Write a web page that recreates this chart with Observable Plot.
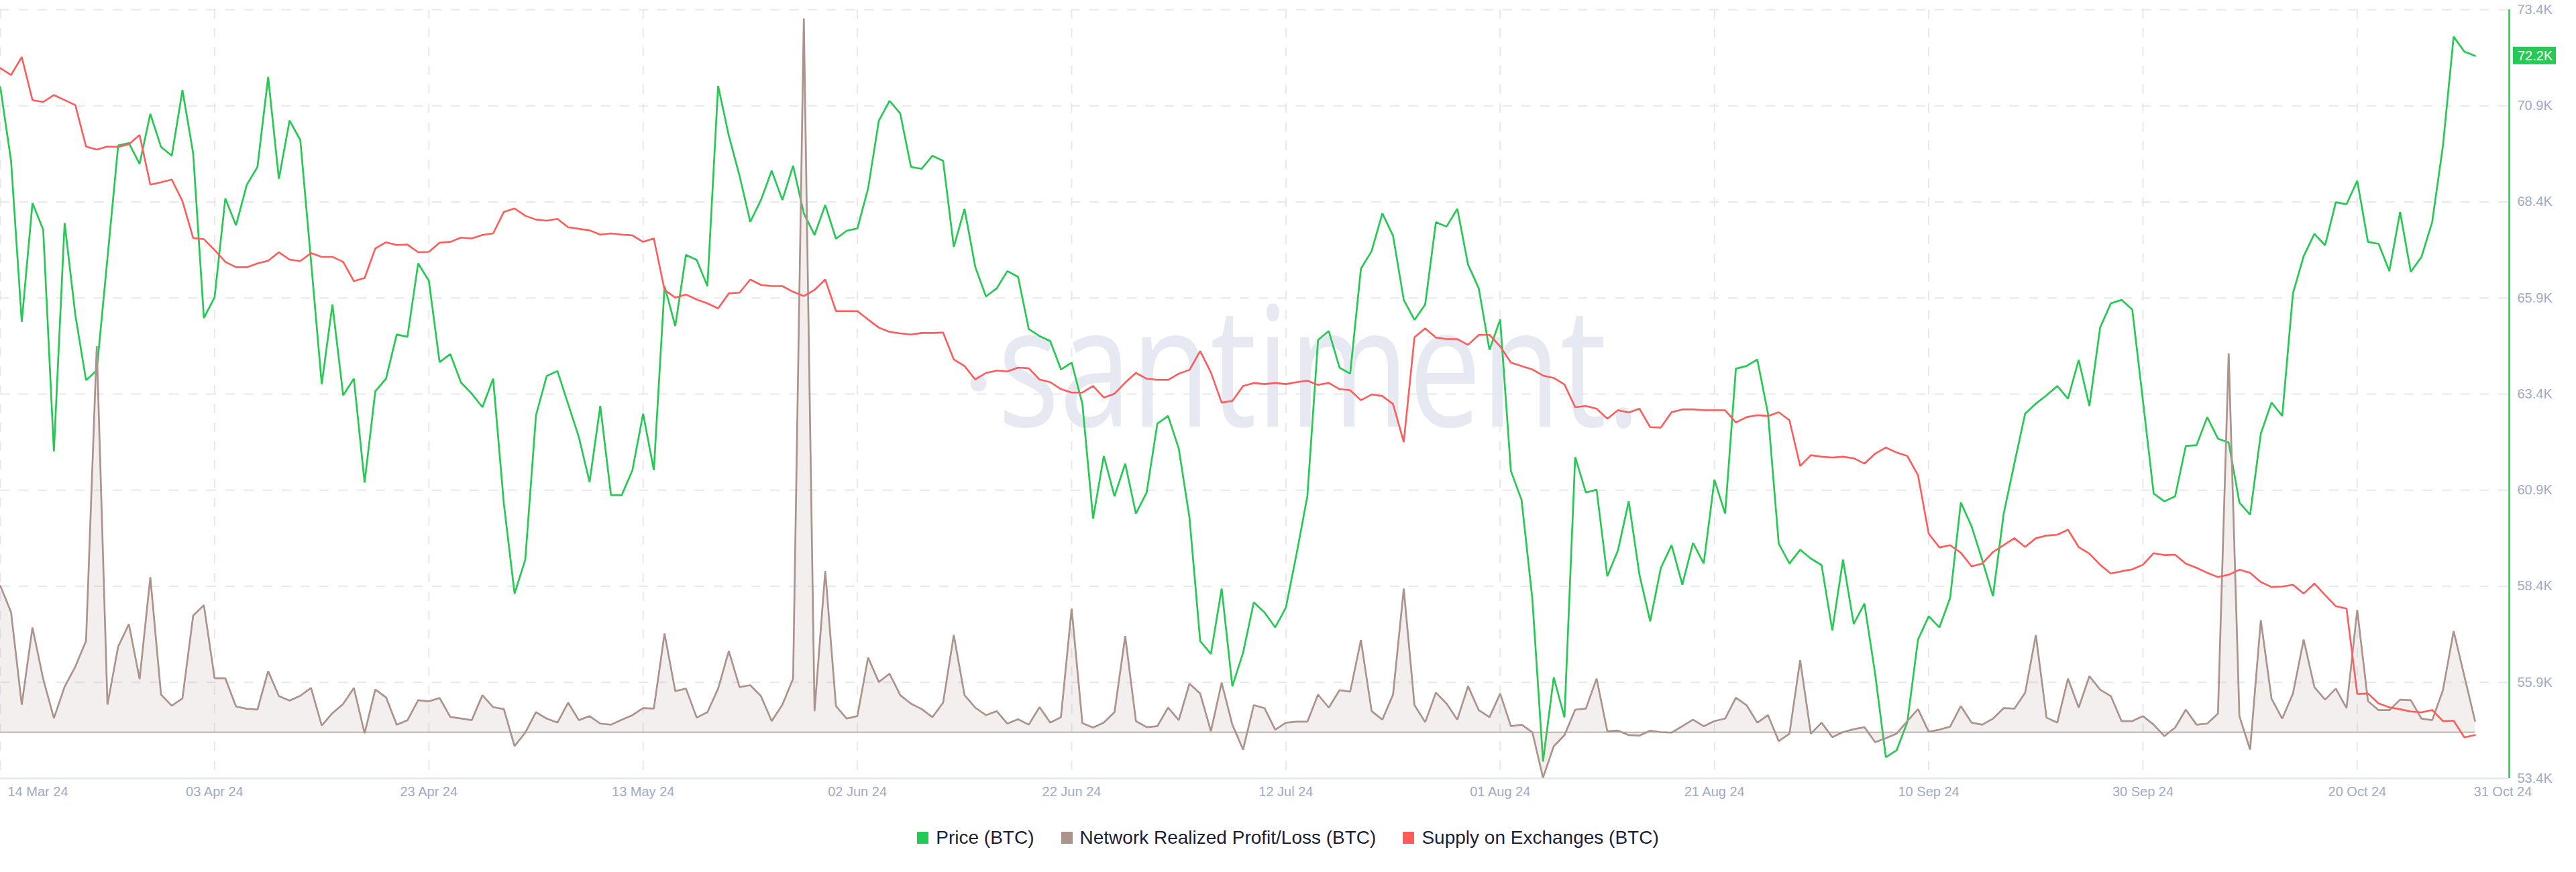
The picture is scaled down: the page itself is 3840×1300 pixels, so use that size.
<!DOCTYPE html>
<html>
<head>
<meta charset="utf-8">
<script src="https://cdn.jsdelivr.net/npm/d3@7"></script>
<script src="https://cdn.jsdelivr.net/npm/@observablehq/plot@0.6"></script>
<style>
  body { margin: 0; background: #ffffff; }
  #chart { position: relative; width: 3840px; height: 1215px; }
  #chart svg { position: absolute; left: 0; top: 0; }
  #legend { display: flex; justify-content: center; align-items: center; height: 68px;
            font-family: "Liberation Sans", Arial, sans-serif; font-size: 28px; color: #1b1e36; }
  .item { display: flex; align-items: center; margin: 0 20px; }
  .sw { width: 17px; height: 18px; margin-right: 11px; }
</style>
</head>
<body>
<div id="chart"></div>
<div id="legend"></div>
<script>
// ---- data (daily, 14 Mar 2024 .. 31 Oct 2024) ----
const startDate = "2024-03-14";
const endDate = "2024-10-31";

const priceUSD = [
71380,69470,65280,68370,67680,61910,67850,65460,63760,64020,
66940,69870,69930,69390,70690,69830,69600,71310,69660,65380,
65920,68490,67790,68840,69310,71650,69000,70520,70010,66860,
63660,65730,63370,63800,61100,63470,63800,64950,64890,66800,
66350,64230,64440,63700,63410,63060,63800,60550,58210,59090,
62850,63870,64000,63140,62280,61110,63090,60770,60770,61420,
62890,61420,66210,65170,67020,66890,66210,71420,70120,69080,
67880,68450,69210,68450,69340,68100,67540,68320,67440,67650,
67710,68750,70510,71030,70700,69310,69260,69600,69470,67230,
68220,66710,65940,66150,66600,66450,65090,64910,64780,64040,
64220,63150,60160,61790,60740,61590,60290,60840,62630,62830,
61980,60180,56970,56640,58340,55800,56670,57980,57720,57330,
57850,59250,60740,64810,65040,64090,63930,66660,67120,68100,
67520,65850,65330,65730,67870,67760,68220,66770,66150,64550,
65340,61400,60640,58080,53840,56030,54990,61760,60840,60910,
58660,59340,60610,58700,57490,58880,59470,58440,59530,58990,
61170,60290,64060,64130,64300,62890,59510,58990,59350,59120,
58950,57250,59090,57420,57950,56120,53950,54130,54860,57010,
57620,57330,58100,60580,59960,59080,58140,60290,61600,62890,
63150,63370,63610,63280,64290,63090,65130,65760,65850,65600,
63220,60810,60610,60740,62050,62070,62800,62240,62140,60580,
60260,62370,63180,62830,66020,66990,67570,67270,68390,68340,
68950,67360,67310,66600,68140,66580,66970,67880,69860,72700,
72310,72200];

// Network Realized Profit/Loss (thousand BTC)
const realizedPL = [
12.3,10.1,2.31,8.8,4.47,1.18,3.82,5.51,7.67,32.45,
2.31,7.2,9.08,4.47,13.03,3.16,2.22,2.84,9.8,10.68,
4.53,4.53,2.16,1.97,1.9,5.13,3.03,2.65,3.06,3.72,
0.56,1.6,2.37,3.72,-0.1,3.59,2.93,0.62,1.0,2.69,
2.59,2.88,1.28,1.15,1.01,3.11,2.1,1.94,-1.18,-0.04,
1.68,1.14,0.8,2.48,1.01,1.35,0.72,0.63,1.05,1.43,
2.02,1.98,8.29,3.45,3.66,1.22,1.68,3.66,6.82,3.79,
3.95,3.03,0.93,2.31,4.5,60.0,1.77,13.55,2.19,1.14,
1.35,6.27,4.21,4.92,3.11,2.4,1.94,1.26,2.48,8.16,
3.11,2.06,1.43,1.77,0.72,1.09,0.63,2.1,0.8,1.26,
10.39,0.76,0.38,0.8,1.68,8.08,0.93,0.42,0.5,2.06,
1.01,4.08,3.24,0.08,4.16,0.63,-1.47,2.27,2.02,0.21,
0.8,0.88,0.88,3.16,2.06,3.53,3.41,7.74,1.77,1.05,
3.16,12.07,2.27,0.84,3.32,2.4,1.05,3.87,1.85,1.26,
3.24,0.5,0.63,0,-3.83,-1.18,-0.25,1.89,1.98,4.5,
0.08,0.13,-0.25,-0.29,0.13,0,-0.04,0.5,1.05,0.5,
0.93,1.14,2.9,2.27,0.8,1.43,-0.76,-0.13,6.06,-0.13,
0.8,-0.42,0,0.25,0.42,-0.84,-0.5,-0.13,0.93,1.94,
0.04,0.21,0.46,2.19,0.8,0.63,1.14,2.02,1.98,3.32,
8.16,1.22,0.8,4.5,2.06,4.71,3.58,3.03,0.93,0.93,
1.35,0.63,-0.34,0.38,1.89,0.63,0.72,1.56,31.85,1.35,
-1.47,9.42,2.82,1.14,3.24,7.78,3.79,2.73,3.66,2.02,
10.27,2.61,1.85,1.85,2.73,2.69,1.14,1.01,3.53,8.5,
4.71,0.93];

// Supply on Exchanges (thousand BTC)
const exchangeSupply = [
2084.8,2083.0,2087.7,2076.5,2076.0,2077.8,2076.5,2075.2,2064.4,2063.6,
2064.4,2064.3,2065.0,2067.4,2054.5,2055.1,2055.8,2050.2,2040.6,2040.3,
2037.5,2034.4,2033.0,2033.0,2034.0,2034.7,2036.9,2035.0,2034.6,2036.7,
2035.7,2035.7,2034.4,2029.4,2030.2,2037.9,2039.5,2038.8,2038.9,2036.9,
2037.0,2039.4,2039.6,2040.7,2040.5,2041.4,2041.8,2047.4,2048.3,2046.4,
2045.4,2045.1,2045.6,2043.4,2043.0,2042.6,2041.5,2041.8,2041.5,2041.3,
2039.6,2040.5,2027.1,2025.1,2025.9,2024.6,2023.6,2022.3,2026.2,2026.4,
2029.8,2028.4,2028.1,2028.1,2026.6,2025.5,2027.1,2029.8,2021.6,2021.6,
2021.6,2019.4,2017.3,2016.2,2015.8,2015.5,2015.9,2015.9,2016.0,2009.0,
2007.3,2003.8,2005.5,2006.1,2005.9,2006.9,2006.7,2003.8,2003.1,2001.3,
2000.4,2000.4,2002.1,1999.1,2000.1,2003.0,2005.5,2004.0,2003.7,2003.7,
2005.3,2006.3,2011.2,2005.6,1997.8,1998.2,2002.1,2002.9,2002.6,2002.9,
2002.6,2003.1,2003.5,2002.4,2002.9,2001.3,2001.0,1998.4,1999.9,1999.5,
1997.4,1987.5,2014.8,2017.1,2014.7,2014.3,2014.3,2012.8,2015.4,2015.4,
2012.4,2008.2,2007.3,2006.4,2004.8,2004.2,2002.5,1996.6,1996.9,1996.2,
1993.6,1995.8,1995.2,1996.2,1991.4,1991.3,1995.3,1996.0,1996.0,1995.8,
1995.8,1995.8,1992.6,1994.0,1994.5,1994.3,1995.3,1993.2,1981.3,1984.1,
1983.7,1983.5,1983.7,1983.3,1981.9,1984.5,1986.1,1984.8,1983.9,1978.9,
1963.7,1960.1,1960.7,1958.7,1955.2,1955.9,1958.9,1960.7,1962.5,1960.2,
1962.5,1963.2,1963.4,1964.7,1960.2,1958.5,1955.6,1953.3,1953.9,1954.4,
1955.6,1958.6,1958.1,1958.2,1955.9,1954.8,1953.5,1952.4,1953.0,1954.3,
1953.5,1951.1,1949.8,1949.9,1950.4,1948.1,1950.7,1947.7,1944.8,1944.2,
1922.0,1922.1,1919.5,1918.5,1918.0,1917.4,1917.2,1917.8,1914.9,1915.0,
1910.7,1911.3];

const xTickDates = ["2024-03-14","2024-04-03","2024-04-23","2024-05-13","2024-06-02","2024-06-22",
                    "2024-07-12","2024-08-01","2024-08-21","2024-09-10","2024-09-30","2024-10-20"];
const priceTicks = [53400,55900,58400,60900,63400,65900,68400,70900,73400];
const seriesNames = ["Price (BTC)", "Network Realized Profit/Loss (BTC)", "Supply on Exchanges (BTC)"];
const seriesColors = ["#26c953", "#ac948c", "#ff5b5b"];
const watermark = "santiment.";

// ---- build ----
const parse = d3.utcParse("%Y-%m-%d");
const start = parse(startDate), end = parse(endDate);
const dates = d3.utcDay.range(start, d3.utcDay.offset(end, 1));
const rows = dates.map((date, i) => ({date, price: priceUSD[i], pl: realizedPL[i], supply: exchangeSupply[i]}));
const xTicks = xTickDates.map(parse);
const xEnd = new Date(start.getTime() + 234.19 * 864e5);
const fmt = d3.utcFormat("%d %b %y");
const kfmt = d => (d / 1000).toFixed(1) + "K";

const W = 3840, H = 1215;
const common = {
  width: W, height: H, marginLeft: 0, marginRight: 100, marginTop: 14, marginBottom: 55,
  style: {background: "transparent", fontFamily: "'Liberation Sans', Arial, sans-serif", fontSize: "20px", overflow: "visible"}
};
const xOpt = {type: "utc", domain: [start, xEnd]};
const gridStyle = {stroke: "#e5e8f1", strokeOpacity: 1, strokeWidth: 2, strokeDasharray: "14 14"};
const labelColor = "#9faac4";
const wmColor = "#e6e8f2";

const pricePlot = Plot.plot({
  ...common,
  x: {...xOpt},
  y: {domain: [53400, 73400]},
  marks: [
    Plot.text([watermark], {frameAnchor: "middle", text: d => d, fontSize: 250, fontFamily: "'Open Sans', sans-serif",
      fill: wmColor, dx: 96, dy: -32}),
    Plot.dot([watermark], {frameAnchor: "middle", r: 12, fill: wmColor, stroke: null, dx: -412, dy: -16}),
    Plot.gridX({ticks: xTicks, ...gridStyle}),
    Plot.gridY({ticks: priceTicks.slice(1), ...gridStyle}),
    Plot.ruleY([priceTicks[0]], {stroke: "#e3e7ef", strokeWidth: 2.5}),
    Plot.axisX({ticks: xTicks.slice(1), tickFormat: fmt, tickSize: 0, tickPadding: 12, fill: labelColor, fontSize: 20, label: null}),
    Plot.text([start], {x: d => d, text: d => fmt(d), frameAnchor: "bottom", lineAnchor: "top", textAnchor: "start",
      dx: 11, dy: 12, fill: labelColor, fontSize: 20}),
    Plot.text([end], {x: d => d, text: d => fmt(d), frameAnchor: "bottom", lineAnchor: "top", textAnchor: "start",
      dx: -2, dy: 12, fill: labelColor, fontSize: 20}),
    Plot.axisY({anchor: "right", ticks: priceTicks, tickFormat: kfmt, tickSize: 0, tickPadding: 12, fill: labelColor, fontSize: 20, label: null}),
    Plot.ruleX([xEnd], {stroke: seriesColors[0], strokeWidth: 2.5}),
    Plot.lineY(rows, {x: "date", y: "price", stroke: seriesColors[0], strokeWidth: 2.7, strokeLinejoin: "miter"})
  ]
});

const plPlot = Plot.plot({
  ...common,
  x: {...xOpt, axis: null},
  y: {domain: [-3.89, 60.74], axis: null},
  marks: [
    Plot.areaY(rows, {x: "date", y: "pl", fill: seriesColors[1], fillOpacity: 0.15}),
    Plot.ruleY([0], {x1: () => rows[0].date, x2: () => rows[rows.length - 1].date, stroke: seriesColors[1], strokeWidth: 1.5}),
    Plot.lineY(rows, {x: "date", y: "pl", stroke: seriesColors[1], strokeWidth: 2.7, strokeLinejoin: "miter"})
  ]
});

const supplyPlot = Plot.plot({
  ...common,
  x: {...xOpt, axis: null},
  y: {domain: [1900, 2100], axis: null},
  marks: [
    Plot.lineY(rows, {x: "date", y: "supply", stroke: seriesColors[2], strokeWidth: 2.6, strokeLinejoin: "miter"})
  ]
});

// watermark compression
d3.select(pricePlot).selectAll("text").filter(function () { return this.textContent === watermark; })
  .attr("textLength", 958).attr("lengthAdjust", "spacingAndGlyphs");

// last-price tag on the right axis
const last = rows[rows.length - 1].price;
const ty = pricePlot.scale("y").apply(last);
const tx = W - common.marginRight + 6;
const tag = d3.select(pricePlot).append("g");
tag.append("rect").attr("x", tx).attr("y", ty - 13).attr("width", 64).attr("height", 26).attr("fill", seriesColors[0]);
tag.append("text").attr("x", tx + 7).attr("y", ty).attr("dy", "0.35em").attr("fill", "#ffffff")
  .attr("text-anchor", "start").attr("font-size", 20)
  .attr("font-family", "'Liberation Sans', Arial, sans-serif").text(kfmt(last));

const chart = document.getElementById("chart");
chart.append(pricePlot, plPlot, supplyPlot);

// legend
const legend = d3.select("#legend");
seriesNames.forEach((name, i) => {
  const it = legend.append("div").attr("class", "item");
  it.append("div").attr("class", "sw").style("background", seriesColors[i]);
  it.append("span").text(name);
});
</script>
</body>
</html>
